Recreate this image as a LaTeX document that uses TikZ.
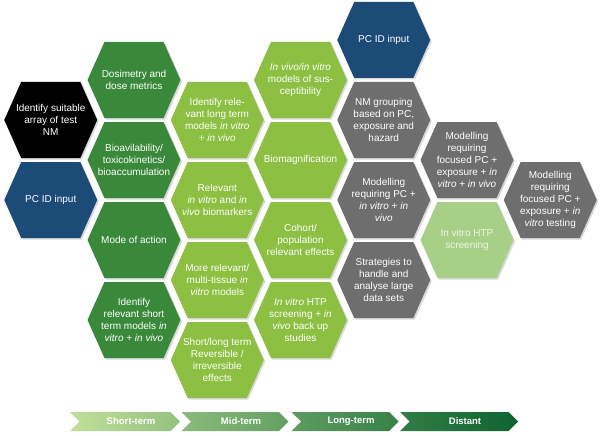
\documentclass[tikz,border=0pt]{standalone}
\usepackage{fontspec}
\setmainfont{Liberation Sans}
\usepackage{tikz}
\usetikzlibrary{shapes.symbols,shadows}
\definecolor{dkgreen}{HTML}{3A893A}
\definecolor{ltgreen}{HTML}{8CBF42}
\definecolor{palegreen}{HTML}{A8CF86}
\definecolor{cellgrey}{HTML}{6E6E6E}
\definecolor{cellblue}{HTML}{1C4B78}
\definecolor{arrowA}{HTML}{C0E09A}
\definecolor{arrowB}{HTML}{0E6430}

\begin{document}
\begin{tikzpicture}[x=1pt, y=-1pt, font=\fontsize{10}{12}\selectfont,
  hexcell/.style={shape=signal, signal to=east and west, signal pointer angle=132,
    minimum width=93pt, minimum height=76pt, inner xsep=-9pt, inner ysep=0pt,
    align=center, text=white,
    drop shadow={opacity=0.3, shadow xshift=1.5pt, shadow yshift=-1.5pt}},
  dk/.style={hexcell, fill=dkgreen},
  lt/.style={hexcell, fill=ltgreen},
  gr/.style={hexcell, fill=cellgrey},
  bl/.style={hexcell, fill=cellblue},
  chev/.style={shape=signal, signal from=west, signal to=east, signal pointer angle=90,
    minimum height=19pt, inner sep=0pt, text=white, font=\fontsize{9.5}{11}\selectfont\bfseries}]
\useasboundingbox (0,0) rectangle (600,436);

% first column
\node[hexcell,fill=black] (nm) at (50.75,120) {Identify suitable\\array of test\\NM};
\node[bl] (pc1) at (50.75,200) {PC ID input};

% short term
\node[dk] (dose) at (134,80) {Dosimetry and\\dose metrics};
\node[dk] (bioav) at (134,160) {Bioavilability/\\toxicokinetics/\\bioaccumulation};
\node[dk] (moa) at (134,240) {Mode of action};
\node[dk] (short) at (134,320) {Identify\\relevant short\\term models \textit{in}\\\textit{vitro} + \textit{in vivo}};

% mid term
\node[lt] (long) at (217.25,120) {Identify rele-\\vant long term\\models \textit{in vitro}\\+ \textit{in vivo}};
\node[lt] (biom) at (217.25,200) {Relevant\\\textit{in vitro} and \textit{in}\\\textit{vivo} biomarkers};
\node[lt] (multi) at (217.25,280) {More relevant/\\multi-tissue \textit{in}\\\textit{vitro} models};
\node[lt] (rev) at (217.25,360) {Short/long term\\Reversible /\\irreversible\\effects};

\node[lt] (susc) at (300.5,80) {\textit{In vivo/in vitro}\\models of sus-\\ceptibility};
\node[lt] (mag) at (300.5,160) {Biomagnification};
\node[lt] (cohort) at (300.5,240) {Cohort/\\population\\relevant effects};
\node[lt] (htp) at (300.5,320) {\textit{In vitro} HTP\\screening + \textit{in}\\\textit{vivo} back up\\studies};

% long term / distant
\node[bl] (pc2) at (383.75,40) {PC ID input};
\node[gr] (group) at (383.75,120) {NM grouping\\based on PC,\\exposure and\\hazard};
\node[gr] (mod1) at (383.75,200) {Modelling\\requiring PC +\\\textit{in vitro} + \textit{in}\\\textit{vivo}};
\node[gr] (data) at (383.75,280) {Strategies to\\handle and\\analyse large\\data sets};

\node[gr] (mod2) at (467,160) {Modelling\\requiring\\focused PC +\\exposure + \textit{in}\\\textit{vitro} + \textit{in vivo}};
\node[hexcell,fill=palegreen,text=white!80!palegreen] (screen) at (467,240) {In vitro HTP\\screening};
\node[gr] (mod3) at (550.25,200) {Modelling\\requiring\\focused PC +\\exposure + \textit{in}\\\textit{vitro} testing};

% time line
\node[chev,minimum width=110pt,left color=arrowA,right color=arrowB!25!arrowA] (t1) at (125,421.5) {\hspace*{12pt}Short-term};
\node[chev,minimum width=107pt,left color=arrowB!30!arrowA,right color=arrowB!52!arrowA] (t2) at (235,421.5) {\hspace*{12pt}Mid-term};
\node[chev,minimum width=107pt,left color=arrowB!55!arrowA,right color=arrowB!77!arrowA] (t3) at (345,421.5) {\hspace*{12pt}Long-term};
\node[chev,minimum width=118pt,left color=arrowB!80!arrowA,right color=arrowB] (t4) at (459,421.5) {\hspace*{12pt}Distant};
\end{tikzpicture}
\end{document}
